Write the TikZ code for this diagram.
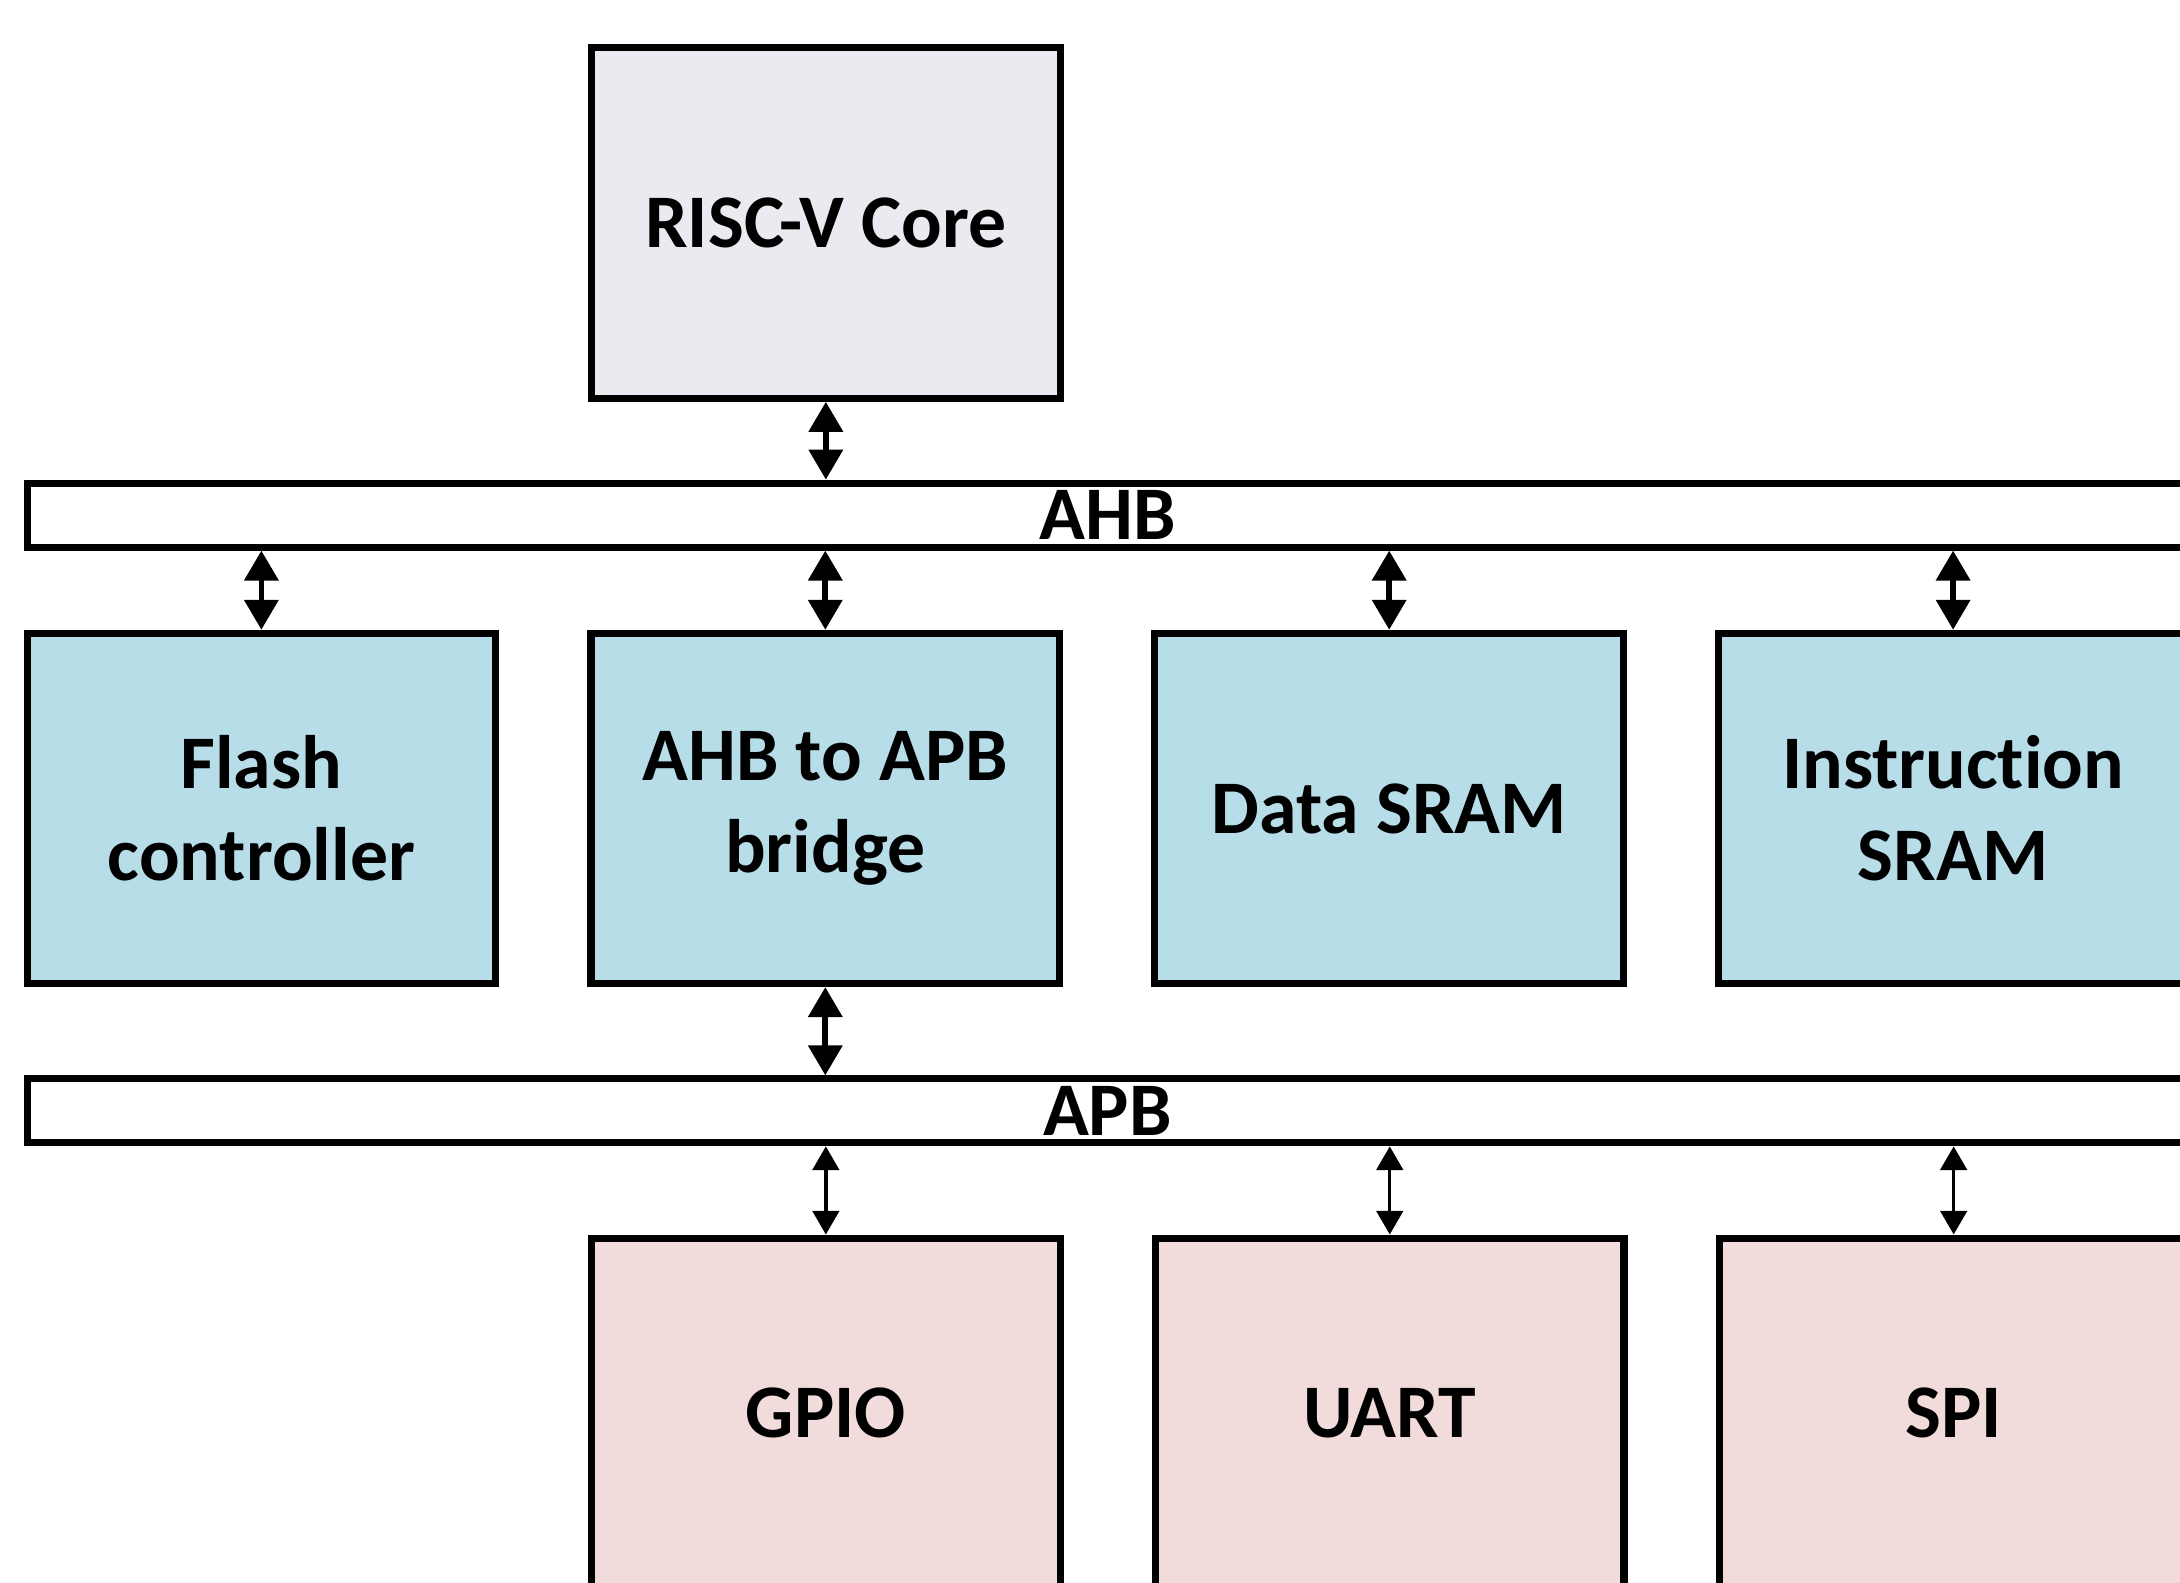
\documentclass[tikz,border=0pt]{standalone}
\usepackage{fontspec}
\setmainfont{Carlito}[Ligatures=NoCommon]
\usetikzlibrary{arrows.meta,positioning}
\definecolor{CoreClr}{rgb}{0.925,0.914,0.945}
\definecolor{MemClr}{rgb}{0.718,0.871,0.910}
\definecolor{PerClr}{rgb}{0.949,0.863,0.859}

\begin{document}
\begin{tikzpicture}[
  blk/.style={draw,line width=2.9pt,minimum width=6.74cm,minimum height=5.04cm,
    align=center,font=\fontsize{31}{37.8}\selectfont\bfseries},
  bus/.style={draw,fill=white,line width=2.9pt,minimum width=31.08cm,
    minimum height=0.92cm,inner sep=0pt,font=\fontsize{31}{37.8}\selectfont\bfseries},
  buslink/.style={{Triangle[length=.43cm,width=.48cm]}-{Triangle[length=.43cm,width=.48cm]},line width=2.3pt},
  perlink/.style={{Triangle[length=.34cm,width=.38cm]}-{Triangle[length=.34cm,width=.38cm]},line width=1.4pt},
  node distance=1.27cm]
\useasboundingbox (0,0) rectangle (31.36,-22.76);
\clip (0,0) rectangle (31.36,-22.76);

% core and AHB
\node[blk,fill=CoreClr] (Core) at (11.88,-3.21) {RISC-V Core};
\node[bus] (AHB) at (15.93,-7.41) {AHB};

% AHB slaves
\node[blk,fill=MemClr] (Flash) at (3.76,-11.63) {Flash\\controller};
\node[blk,fill=MemClr,right=of Flash] (Bridge) {AHB to APB\\bridge};
\node[blk,fill=MemClr,right=of Bridge] (DSRAM) {Data SRAM};
\node[blk,fill=MemClr,right=of DSRAM] (ISRAM) {Instruction\\SRAM};

% APB and peripherals
\node[bus] (APB) at (15.93,-15.98) {APB};
\node[blk,fill=PerClr] (GPIO) at (11.88,-20.33) {GPIO};
\node[blk,fill=PerClr,right=of GPIO] (UART) {UART};
\node[blk,fill=PerClr,right=of UART] (SPI) {SPI};

\draw[buslink] (Core.south) -- (Core.south |- AHB.north);
\draw[buslink] (Flash.north |- AHB.south) -- (Flash.north);
\draw[buslink] (Bridge.north |- AHB.south) -- (Bridge.north);
\draw[buslink] (DSRAM.north |- AHB.south) -- (DSRAM.north);
\draw[buslink] (ISRAM.north |- AHB.south) -- (ISRAM.north);
\draw[buslink] (Bridge.south) -- (Bridge.south |- APB.north);

\draw[perlink] (GPIO.north |- APB.south) -- (GPIO.north);
\draw[perlink] (UART.north |- APB.south) -- (UART.north);
\draw[perlink] (SPI.north |- APB.south) -- (SPI.north);

\end{tikzpicture}
\end{document}
